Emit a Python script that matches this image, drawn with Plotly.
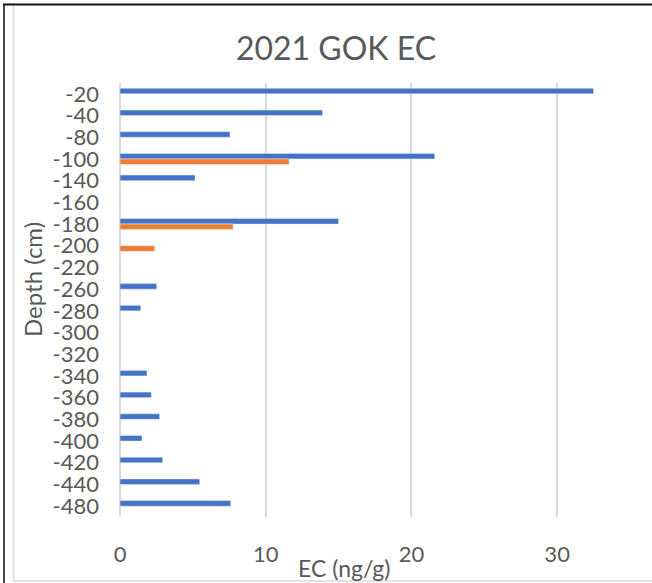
import plotly.graph_objects as go

# Depth intervals (cm), top to bottom
depths = ["-20", "-40", "-80", "-100", "-140", "-160", "-180", "-200", "-220", "-260",
          "-280", "-300", "-320", "-340", "-360", "-380", "-400", "-420", "-440", "-480"]

# EC concentrations (ng/g); None where no measurement
ec_series1 = [32.5, 13.9, 7.55, 21.6, 5.15, None, 15.0, None, None, 2.52,
              1.42, None, None, 1.85, 2.15, 2.72, 1.51, 2.93, 5.47, 7.6]
ec_series2 = [None, None, None, 11.6, None, None, 7.76, 2.38, None, None,
              None, None, None, None, None, None, None, None, None, None]

x_ticks = [0, 10, 20, 30]

BLUE = "#4472C4"
ORANGE = "#ED7D31"
GRID = "#D9D9D9"
TEXT = "#595959"
FONT = "Lato"

fig = go.Figure()
fig.add_trace(go.Bar(y=depths, x=ec_series1, orientation="h", marker_color=BLUE,
                     name="Series1", showlegend=False))
fig.add_trace(go.Bar(y=depths, x=ec_series2, orientation="h", marker_color=ORANGE,
                     name="Series2", showlegend=False))

W, H = 652, 583
ML, MR, MT, MB = 120, 22, 83, 66
PW, PH = W - ML - MR, H - MT - MB


def px(xp):
    return (xp - ML) / PW


def py(yp):
    return (H - MB - yp) / PH


fig.update_layout(
    width=W, height=H,
    margin=dict(l=ML, r=MR, t=MT, b=MB, pad=0),
    paper_bgcolor="white", plot_bgcolor="white",
    barmode="group", bargap=0.49, bargroupgap=0,
    font=dict(family=FONT, color=TEXT),
    title=dict(text="2021 GOK EC", x=336 / W, xref="container", xanchor="center",
               y=1 - 49 / H, yref="container", yanchor="middle",
               font=dict(size=32, color=TEXT, family=FONT)),
    xaxis=dict(range=[0, 35], tickmode="array", tickvals=x_ticks, showgrid=True,
               gridcolor=GRID, gridwidth=1.5, zeroline=True, zerolinecolor=GRID,
               zerolinewidth=1.5, showline=False, ticks="",
               tickfont=dict(size=22, color=TEXT), ticklabelstandoff=22),
    yaxis=dict(type="category", categoryorder="array", categoryarray=depths,
               tickmode="array", tickvals=depths, ticktext=depths,
               range=[len(depths) - 0.5, -0.5], showgrid=False, zeroline=False,
               showline=False, ticks="", tickfont=dict(size=22, color=TEXT),
               ticklabelstandoff=20),
    annotations=[
        dict(text="EC (ng/g)", x=px(344), y=py(568), xref="paper", yref="paper",
             xanchor="center", yanchor="middle", showarrow=False,
             font=dict(size=23, color=TEXT, family=FONT)),
        dict(text="Depth (cm)", x=px(32), y=py(280), xref="paper", yref="paper",
             xanchor="center", yanchor="middle", showarrow=False, textangle=-90,
             font=dict(size=24, color=TEXT, family=FONT)),
    ],
    shapes=[
        # outer frame edges
        dict(type="line", xref="paper", yref="paper", x0=px(4), x1=px(4),
             y0=py(4), y1=py(583), line=dict(color="#4a4a4a", width=2)),
        dict(type="line", xref="paper", yref="paper", x0=px(3), x1=px(652),
             y0=py(4.5), y1=py(4.5), line=dict(color="#111111", width=2)),
        # inner chart border
        dict(type="line", xref="paper", yref="paper", x0=px(13.5), x1=px(13.5),
             y0=py(6), y1=py(581), line=dict(color="#E3E3E3", width=2)),
        dict(type="line", xref="paper", yref="paper", x0=px(13.5), x1=px(652),
             y0=py(581), y1=py(581), line=dict(color="#E3E3E3", width=2)),
    ],
)

fig.write_html("out.html")
